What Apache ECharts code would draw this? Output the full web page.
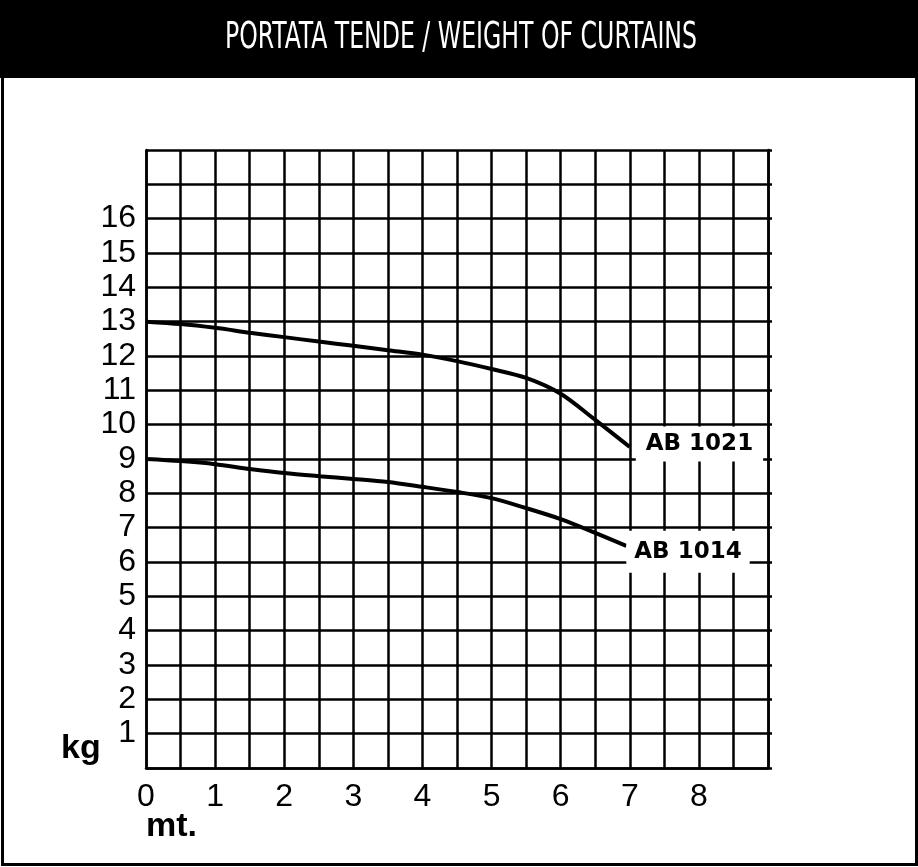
<!DOCTYPE html>
<html>
<head>
<meta charset="utf-8">
<script src="https://cdn.jsdelivr.net/npm/echarts@6/dist/echarts.min.js"></script>
<style>
html,body{margin:0;padding:0;background:#fff;}
#chart{width:918px;height:867px;}
</style>
</head>
<body>
<div id="chart"></div>
<script>
// ---- data ----
const chartTitle = 'PORTATA TENDE / WEIGHT OF CURTAINS';
const xUnit = 'mt.';
const yUnit = 'kg';
const seriesNames = ['AB 1021', 'AB 1014'];
const ab1021X = [0, 0.5, 1, 1.5, 2, 2.5, 3, 3.5, 4, 4.5, 5, 5.5, 6, 6.5, 7];
const ab1021Y = [13.0, 12.93, 12.82, 12.68, 12.55, 12.42, 12.3, 12.17, 12.04, 11.85, 11.62, 11.36, 10.9, 10.14, 9.35];
const ab1014X = [0, 0.5, 1, 1.5, 2, 2.5, 3, 3.5, 4, 4.5, 5, 5.5, 6, 6.5, 6.95];
const ab1014Y = [9.0, 8.94, 8.85, 8.71, 8.59, 8.5, 8.42, 8.33, 8.19, 8.04, 7.86, 7.57, 7.25, 6.85, 6.47];
const xTickLabels = [0, 1, 2, 3, 4, 5, 6, 7, 8];
const yTickLabels = [1, 2, 3, 4, 5, 6, 7, 8, 9, 10, 11, 12, 13, 14, 15, 16];

// ---- build ----
const pairs = (xs, ys) => xs.map((x, i) => [x, ys[i]]);

const titleFont = '38px "DejaVu Sans Condensed", "DejaVu Sans"';
const cv = document.createElement('canvas').getContext('2d');
cv.font = titleFont;
const titleScale = 472 / cv.measureText(chartTitle).width;

const chart = echarts.init(document.getElementById('chart'));
const gridLine = {show: true, lineStyle: {color: '#000', width: 2.5}};
const labelFont = {color: '#000', fontSize: 32, fontFamily: '"Liberation Sans", Arial, sans-serif'};
const unitFont = {color: '#000', fontSize: 34, fontWeight: 'bold', fontFamily: '"Liberation Sans", Arial, sans-serif'};

const endLbl = (offset, padding) => ({
  show: true,
  formatter: '{a}',
  color: '#000',
  fontFamily: '"DejaVu Sans", sans-serif',
  fontWeight: 'bold',
  fontSize: 23,
  lineHeight: 23,
  backgroundColor: '#fff',
  padding: padding,
  offset: offset
});

chart.setOption({
  animation: false,
  backgroundColor: '#fff',
  title: [
    {text: yUnit, left: 61, top: 732, padding: 0, textStyle: unitFont},
    {text: xUnit, left: 146, top: 810, padding: 0, textStyle: unitFont}
  ],
  graphic: [
    {type: 'rect', left: 0, top: 0, z: 0, shape: {width: 918, height: 78}, style: {fill: '#000'}},
    {type: 'rect', left: 0, top: 0, z: 0, shape: {x: 1.5, y: 1.5, width: 914, height: 862}, style: {fill: 'none', stroke: '#000', lineWidth: 3}},
    {type: 'text', x: 461, y: 38, scaleX: titleScale, z: 10,
     style: {text: chartTitle, fill: '#fff', font: titleFont, align: 'center', verticalAlign: 'middle'}}
  ],
  grid: {left: 146, top: 150, right: 150, bottom: 99, containLabel: false},
  xAxis: {
    type: 'value', min: 0, max: 9, interval: 0.5,
    axisLine: {show: true, lineStyle: {color: '#000', width: 2.5}},
    axisTick: {show: false},
    splitLine: gridLine,
    axisLabel: Object.assign({
      margin: 13,
      formatter: v => xTickLabels.includes(v) ? String(v) : ''
    }, labelFont)
  },
  yAxis: [{
    type: 'value', min: 0, max: 18, interval: 1,
    axisLine: {show: true, lineStyle: {color: '#000', width: 2.5}},
    axisTick: {show: false},
    splitLine: gridLine,
    axisLabel: Object.assign({
      margin: 10,
      formatter: v => yTickLabels.includes(v) ? String(v) : ''
    }, labelFont)
  }, {
    type: 'value', min: 0, max: 18, interval: 1, position: 'right',
    axisLine: {show: true, lineStyle: {color: '#000', width: 2.5}},
    axisTick: {show: true, length: 4, lineStyle: {color: '#000', width: 2.5}},
    splitLine: {show: false},
    axisLabel: {show: false}
  }],
  series: [
    {
      name: seriesNames[0], type: 'line', data: pairs(ab1021X, ab1021Y),
      smooth: 0.3, showSymbol: false, z: 5,
      lineStyle: {color: '#000', width: 4},
      endLabel: endLbl([-2, -3], [6, 10, 6, 10])
    },
    {
      name: seriesNames[1], type: 'line', data: pairs(ab1014X, ab1014Y),
      smooth: 0.3, showSymbol: false, z: 5,
      lineStyle: {color: '#000', width: 4},
      endLabel: endLbl([-8, 6], [10, 8, 9, 8])
    }
  ]
});
</script>
</body>
</html>
